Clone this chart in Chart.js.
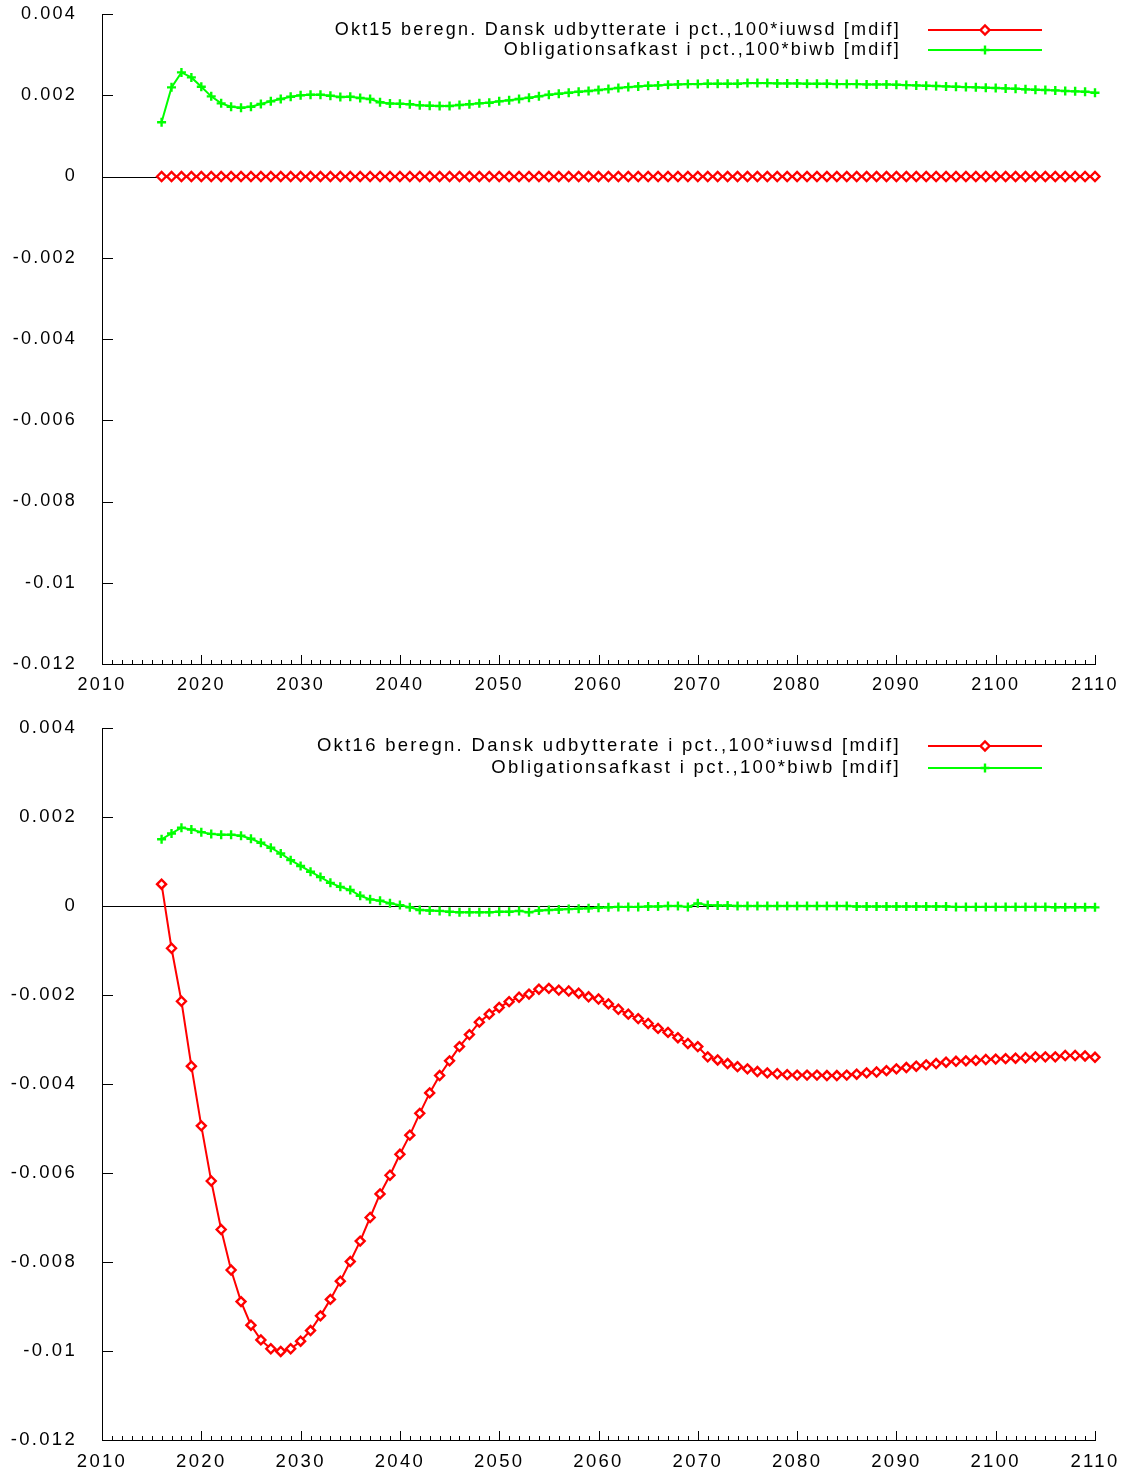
<!DOCTYPE html>
<html lang="da">
<head>
<meta charset="UTF-8">
<title>Okt15 / Okt16 mdif</title>
<script src="https://cdn.jsdelivr.net/npm/chart.js"></script>
<style>
  body { margin: 0; background: #fff; }
  canvas { display: block; }
</style>
</head>
<body>
<canvas id="okt15" width="1132" height="710"></canvas>
<canvas id="okt16" width="1132" height="762"></canvas>
<script>
// years on the x axis
const years = [
  2016, 2017, 2018, 2019,
  2020, 2021, 2022, 2023, 2024, 2025, 2026, 2027, 2028, 2029,
  2030, 2031, 2032, 2033, 2034, 2035, 2036, 2037, 2038, 2039,
  2040, 2041, 2042, 2043, 2044, 2045, 2046, 2047, 2048, 2049,
  2050, 2051, 2052, 2053, 2054, 2055, 2056, 2057, 2058, 2059,
  2060, 2061, 2062, 2063, 2064, 2065, 2066, 2067, 2068, 2069,
  2070, 2071, 2072, 2073, 2074, 2075, 2076, 2077, 2078, 2079,
  2080, 2081, 2082, 2083, 2084, 2085, 2086, 2087, 2088, 2089,
  2090, 2091, 2092, 2093, 2094, 2095, 2096, 2097, 2098, 2099,
  2100, 2101, 2102, 2103, 2104, 2105, 2106, 2107, 2108, 2109,
  2110
];

// Okt15 panel
const okt15Udbytte = [
  0, 0, 0, 0,
  0, 0, 0, 0, 0, 0, 0, 0, 0, 0,
  0, 0, 0, 0, 0, 0, 0, 0, 0, 0,
  0, 0, 0, 0, 0, 0, 0, 0, 0, 0,
  0, 0, 0, 0, 0, 0, 0, 0, 0, 0,
  0, 0, 0, 0, 0, 0, 0, 0, 0, 0,
  0, 0, 0, 0, 0, 0, 0, 0, 0, 0,
  0, 0, 0, 0, 0, 0, 0, 0, 0, 0,
  0, 0, 0, 0, 0, 0, 0, 0, 0, 0,
  0, 0, 0, 0, 0, 0, 0, 0, 0, 0,
  0
];
const okt15Oblig = [
  0.001335, 0.002194, 0.002562, 0.002439,
  0.002209, 0.001973, 0.001801, 0.001718, 0.001693, 0.001718, 0.001784, 0.001850, 0.001907, 0.001963,
  0.001998, 0.002012, 0.002012, 0.001988, 0.001956, 0.001963, 0.001931, 0.001907, 0.001826, 0.001796,
  0.001791, 0.001777, 0.001752, 0.001742, 0.001735, 0.001735, 0.001760, 0.001777, 0.001801, 0.001816,
  0.001850, 0.001875, 0.001907, 0.001939, 0.001973, 0.002012, 0.002037, 0.002061, 0.002086, 0.002103,
  0.002128, 0.002152, 0.002177, 0.002201, 0.002218, 0.002233, 0.002243, 0.002258, 0.002267, 0.002275,
  0.002275, 0.002282, 0.002282, 0.002282, 0.002282, 0.002299, 0.002299, 0.002299, 0.002292, 0.002292,
  0.002292, 0.002282, 0.002282, 0.002282, 0.002275, 0.002275, 0.002275, 0.002267, 0.002267, 0.002267,
  0.002258, 0.002250, 0.002243, 0.002233, 0.002226, 0.002218, 0.002209, 0.002201, 0.002194, 0.002184,
  0.002177, 0.002169, 0.002160, 0.002145, 0.002135, 0.002128, 0.002120, 0.002103, 0.002096, 0.002086,
  0.002061
];

// Okt16 panel
const okt16Udbytte = [
  0.00049, -0.00095, -0.00214, -0.00360,
  -0.00494, -0.00618, -0.00727, -0.00818, -0.00889, -0.00942, -0.00975, -0.00995, -0.01001, -0.00995,
  -0.00978, -0.00954, -0.00921, -0.00884, -0.00843, -0.00799, -0.00753, -0.00700, -0.00647, -0.00605,
  -0.00558, -0.00515, -0.00466, -0.00420, -0.00381, -0.00348, -0.00316, -0.00289, -0.00261, -0.00243,
  -0.00228, -0.00215, -0.00205, -0.00198, -0.00187, -0.00185, -0.00189, -0.00191, -0.00196, -0.00204,
  -0.00209, -0.00220, -0.00232, -0.00243, -0.00253, -0.00264, -0.00275, -0.00284, -0.00296, -0.00309,
  -0.00316, -0.00339, -0.00346, -0.00354, -0.00361, -0.00366, -0.00372, -0.00375, -0.00377, -0.00379,
  -0.00380, -0.00380, -0.00380, -0.00381, -0.00381, -0.00380, -0.00378, -0.00375, -0.00373, -0.00370,
  -0.00366, -0.00363, -0.00360, -0.00357, -0.00354, -0.00351, -0.00349, -0.00348, -0.00347, -0.00345,
  -0.00344, -0.00343, -0.00342, -0.00341, -0.00339, -0.00339, -0.00339, -0.00336, -0.00336, -0.00337,
  -0.00340
];
const okt16Oblig = [
  0.00150, 0.00163, 0.00176, 0.00172,
  0.00166, 0.00162, 0.00160, 0.00160, 0.00158, 0.00151, 0.00142, 0.00131, 0.00118, 0.00103,
  0.00090, 0.00077, 0.00065, 0.00052, 0.00043, 0.00036, 0.00023, 0.00015, 0.00012, 0.00006,
  0.00002, -0.00003, -0.00009, -0.00010, -0.00011, -0.00013, -0.00014, -0.00014, -0.00014, -0.00014,
  -0.00013, -0.00013, -0.00011, -0.00014, -0.00010, -0.00009, -0.00008, -0.00007, -0.00006, -0.00005,
  -0.00004, -0.00003, -0.00002, -0.00002, -0.00002, -0.00001, -0.00001, 0.00000, 0.00000, -0.00002,
  0.00006, 0.00002, 0.00001, 0.00001, 0.00000, 0.00000, 0.00000, 0.00000, 0.00000, 0.00000,
  0.00000, 0.00000, 0.00000, 0.00000, 0.00000, 0.00000, -0.00001, -0.00001, -0.00001, -0.00001,
  -0.00001, -0.00001, -0.00001, -0.00001, -0.00001, -0.00001, -0.00002, -0.00002, -0.00002, -0.00002,
  -0.00002, -0.00002, -0.00002, -0.00002, -0.00002, -0.00002, -0.00003, -0.00003, -0.00003, -0.00003,
  -0.00003
];

const okt15Labels = ['Okt15 beregn. Dansk udbytterate i pct.,100*iuwsd [mdif]', 'Obligationsafkast i pct.,100*biwb [mdif]'];
const okt16Labels = ['Okt16 beregn. Dansk udbytterate i pct.,100*iuwsd [mdif]', 'Obligationsafkast i pct.,100*biwb [mdif]'];

// axis ranges / tick steps
const xMin = 2010, xMax = 2110, xStep = 10;
const yMin = -0.012, yMax = 0.004, yStep = 0.002;

const FONT = '"Liberation Sans", Arial, sans-serif';

// keep the plot box exactly where layout.padding + afterFit say
function noScalePadding(s) {
  s.paddingLeft = 0; s.paddingRight = 0; s.paddingTop = 0; s.paddingBottom = 0;
}

// gnuplot-ish extras: letter spacing, inward ticks, zero axis, key
const gnuplotLook = {
  id: 'gnuplotLook',
  beforeUpdate(chart, args, opts) { chart.ctx.letterSpacing = opts.spacing + 'px'; },
  beforeDraw(chart, args, opts) { chart.ctx.letterSpacing = opts.spacing + 'px'; },
  beforeDatasetsDraw(chart) {
    const ctx = chart.ctx, a = chart.chartArea;
    const x = chart.scales.x, y = chart.scales.y;
    ctx.save();
    ctx.strokeStyle = '#000';
    ctx.lineWidth = 1;
    ctx.beginPath();
    const y0 = Math.round(y.getPixelForValue(0)) + 0.5;
    ctx.moveTo(a.left, y0);
    ctx.lineTo(a.right, y0);
    y.ticks.forEach(t => {
      const py = Math.round(y.getPixelForValue(t.value)) + 0.5;
      ctx.moveTo(a.left, py);
      ctx.lineTo(a.left + 11, py);
    });
    for (let yr = xMin; yr <= xMax; yr++) {
      const px = Math.round(x.getPixelForValue(yr)) + 0.5;
      const len = yr % 10 === 0 ? 9 : 4;
      ctx.moveTo(px, a.bottom);
      ctx.lineTo(px, a.bottom - len);
    }
    ctx.stroke();
    ctx.restore();
  },
  afterDraw(chart, args, opts) {
    const ctx = chart.ctx;
    ctx.save();
    ctx.letterSpacing = opts.spacing + 'px';
    ctx.font = opts.fontSize + 'px ' + FONT;
    ctx.textAlign = 'right';
    ctx.textBaseline = 'middle';
    chart.data.datasets.forEach((ds, i) => {
      const ly = opts.rows[i];
      ctx.fillStyle = '#000';
      ctx.fillText(ds.label, opts.textRight, ly);
      ctx.strokeStyle = ds.borderColor;
      ctx.lineWidth = 2;
      ctx.beginPath();
      ctx.moveTo(opts.lineFrom, ly);
      ctx.lineTo(opts.lineTo, ly);
      ctx.stroke();
      ctx.fillStyle = ds.pointBackgroundColor;
      ctx.lineWidth = ds.pointBorderWidth;
      Chart.helpers.drawPoint(ctx, {
        pointStyle: ds.pointStyle, radius: ds.pointRadius,
        borderWidth: ds.pointBorderWidth, rotation: 0
      }, (opts.lineFrom + opts.lineTo) / 2, ly);
    });
    ctx.restore();
  }
};

function makePanel(id, udbytte, oblig, labels, p) {
  const toPts = vals => years.map((yr, i) => ({ x: yr, y: vals[i] }));
  return new Chart(document.getElementById(id), {
    type: 'line',
    data: {
      datasets: [
        {
          label: labels[0],
          data: toPts(udbytte),
          borderColor: '#ff0000',
          borderWidth: 2,
          pointStyle: 'rectRot',
          pointRadius: 4.5,
          pointBorderWidth: 2.4,
          pointBackgroundColor: '#ffffff',
          pointBorderColor: '#ff0000',
          clip: false
        },
        {
          label: labels[1],
          data: toPts(oblig),
          borderColor: '#00ff00',
          borderWidth: 2,
          pointStyle: 'cross',
          pointRadius: 4.5,
          pointBorderWidth: 2.4,
          pointBackgroundColor: '#00ff00',
          pointBorderColor: '#00ff00',
          clip: false
        }
      ]
    },
    options: {
      responsive: false,
      animation: false,
      events: [],
      layout: { autoPadding: false, padding: { left: 0, top: p.top, right: 37, bottom: 0 } },
      scales: {
        x: {
          type: 'linear', min: xMin, max: xMax,
          grid: { display: false, drawTicks: false },
          border: { display: true, color: '#000', width: 1 },
          ticks: {
            stepSize: xStep, padding: p.xPad, color: '#000',
            font: { family: FONT, size: p.fontSize },
            maxRotation: 0, autoSkip: false,
            callback: v => String(v)
          },
          afterFit: s => { s.height = p.xHeight; noScalePadding(s); }
        },
        y: {
          type: 'linear', min: yMin, max: yMax,
          grid: { display: false, drawTicks: false },
          border: { display: true, color: '#000', width: 1 },
          ticks: {
            stepSize: yStep, padding: 25, color: '#000',
            font: { family: FONT, size: p.fontSize },
            callback: v => String(Math.round(v * 1000) / 1000)
          },
          afterFit: s => { s.width = 102; noScalePadding(s); }
        }
      },
      plugins: {
        legend: { display: false },
        tooltip: { enabled: false },
        gnuplotLook: {
          spacing: p.spacing, fontSize: p.fontSize, rows: p.rows,
          textRight: 901, lineFrom: 928, lineTo: 1042
        }
      }
    },
    plugins: [gnuplotLook]
  });
}

makePanel('okt15', okt15Udbytte, okt15Oblig, okt15Labels,
  { top: 14, xHeight: 46, xPad: 10, fontSize: 18, spacing: 2.2, rows: [30, 50] });
makePanel('okt16', okt16Udbytte, okt16Oblig, okt16Labels,
  { top: 18, xHeight: 32, xPad: 11, fontSize: 18.5, spacing: 2.3, rows: [36, 58] });
</script>
</body>
</html>
